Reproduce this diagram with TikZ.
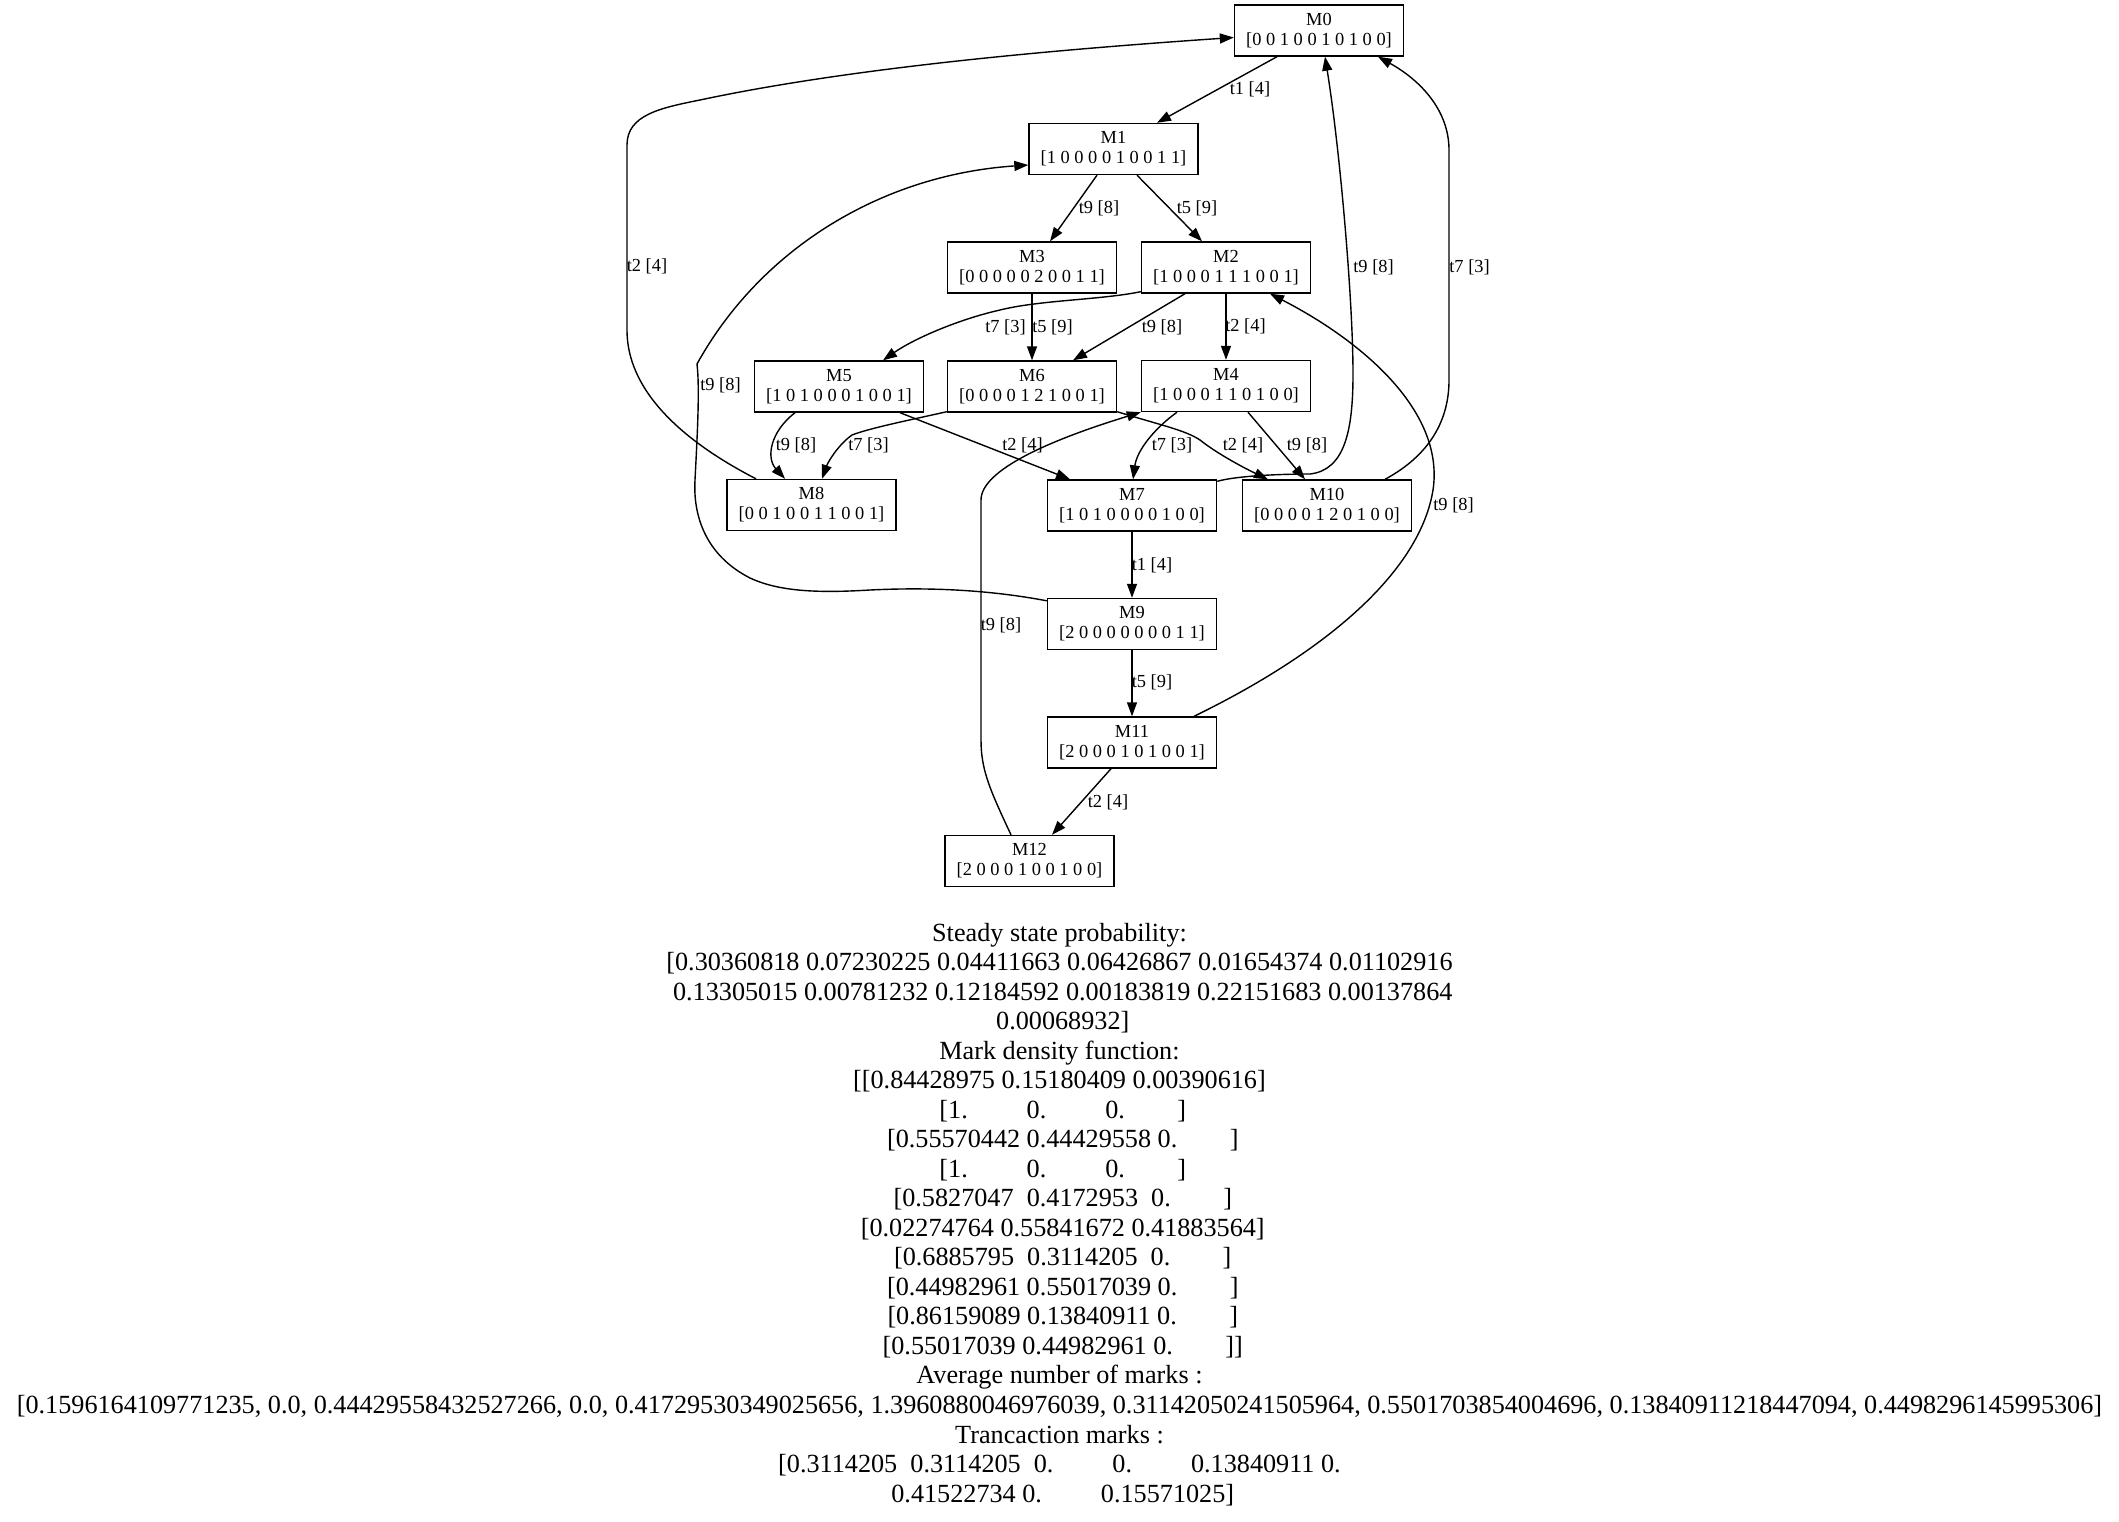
\documentclass[tikz,border=0pt]{standalone}
\usepackage{fontspec}
\setmainfont{Liberation Serif}
\usetikzlibrary{arrows.meta,calc}
\newcommand\sk[1]{\hspace*{#1\fontdimen2\font}}
\begin{document}
\begin{tikzpicture}[x=0.5pt,y=-0.5pt,
  mnode/.style={draw,line width=0.7pt,minimum width=84.5pt,minimum height=25.5pt,inner sep=0pt,align=center,font=\fontsize{9.2}{10}\selectfont},
  edge/.style={draw,line width=0.7pt,-{Triangle[length=7pt,width=5pt]}},
  lbl/.style={inner sep=0pt,font=\fontsize{9.2}{10}\selectfont},
  txt/.style={align=center,inner sep=0pt,font=\fontsize{13.1}{14.76}\selectfont}]
\fill[white] (0,0) rectangle (2119,1521);

\node[mnode] (M0) at (1319,30.5) {M0\\{}[0 0 1 0 0 1 0 1 0 0]};
\node[mnode] (M1) at (1113.5,149) {M1\\{}[1 0 0 0 0 1 0 0 1 1]};
\node[mnode] (M3) at (1032,267.5) {M3\\{}[0 0 0 0 0 2 0 0 1 1]};
\node[mnode] (M2) at (1226,267.5) {M2\\{}[1 0 0 0 1 1 1 0 0 1]};
\node[mnode] (M5) at (839,386.5) {M5\\{}[1 0 1 0 0 0 1 0 0 1]};
\node[mnode] (M6) at (1032,386.5) {M6\\{}[0 0 0 0 1 2 1 0 0 1]};
\node[mnode] (M4) at (1226,386) {M4\\{}[1 0 0 0 1 1 0 1 0 0]};
\node[mnode] (M8) at (811.5,505) {M8\\{}[0 0 1 0 0 1 1 0 0 1]};
\node[mnode] (M7) at (1132,505.5) {M7\\{}[1 0 1 0 0 0 0 1 0 0]};
\node[mnode] (M10) at (1327,505.5) {M10\\{}[0 0 0 0 1 2 0 1 0 0]};
\node[mnode] (M9) at (1132,624) {M9\\{}[2 0 0 0 0 0 0 0 1 1]};
\node[mnode] (M11) at (1132,742.5) {M11\\{}[2 0 0 0 1 0 1 0 0 1]};
\node[mnode] (M12) at (1029.5,861) {M12\\{}[2 0 0 0 1 0 0 1 0 0]};

\draw[edge] ($(M0.south)+(-42,0)$) -- ($(M1.north)+(43.5,0)$) node[lbl] at (1250,89) {t1 [4]};
\draw[edge] ($(M1.south)+(-16.5,0)$) -- ($(M3.north)+(18,0)$) node[lbl] at (1099,208) {t9 [8]};
\draw[edge] ($(M1.south)+(23.5,0)$) -- ($(M2.north)+(-24,0)$) node[lbl] at (1197,208) {t5 [9]};
\draw[edge] ($(M2.south west)+(0,-2)$) .. controls (1100,300) and (1040,300) .. (1000,310) .. controls (960,319) and (915,338) .. ($(M5.north)+(44,0)$) node[lbl] at (1005.5,327) {t7 [3]};
\draw[edge] (M3.south) -- (M6.north) node[lbl] at (1052.5,327) {t5 [9]};
\draw[edge] ($(M2.south)+(-41,0)$) -- ($(M6.north)+(41,0)$) node[lbl] at (1162,327) {t9 [8]};
\draw[edge] (M2.south) -- (M4.north) node[lbl] at (1245.5,326) {t2 [4]};
\draw[edge] ($(M5.south)+(-44,0)$) .. controls (770,432) and (766,458) .. ($(M8.north)+(-26.5,0)$) node[lbl] at (796,445) {t9 [8]};
\draw[edge] ($(M6.south west)+(0,-1)$) .. controls (910,420) and (870,428) .. (852,435) .. controls (838,445) and (828,462) .. ($(M8.north)+(10.5,0)$) node[lbl] at (868.5,445) {t7 [3]};
\draw[edge] ($(M5.south)+(61,0)$) -- ($(M7.north)+(-62,0)$) node[lbl] at (1022.5,445) {t2 [4]};
\draw[edge] ($(M6.south east)+(0,-1)$) .. controls (1160,425) and (1185,430) .. (1200,440) .. controls (1215,452) and (1240,466) .. ($(M10.north)+(-59,0)$) node[lbl] at (1243,445) {t2 [4]};
\draw[edge] ($(M4.south)+(-49,0)$) .. controls (1155,428) and (1137,450) .. ($(M7.north)+(1,0)$) node[lbl] at (1172,445) {t7 [3]};
\draw[edge] ($(M4.south)+(22,0)$) -- ($(M10.north)+(-22,0)$) node[lbl] at (1307,445) {t9 [8]};
\draw[edge] ($(M7.north east)+(0,2)$) .. controls (1240,475) and (1290,474) .. (1310,474) .. controls (1345,470) and (1353,430) .. (1353,374) .. controls (1353,300) and (1340,150) .. ($(M0.south)+(6,0)$) node[lbl] at (1373.5,267) {t9 [8]};
\draw[edge] ($(M10.north)+(58,0)$) .. controls (1430,455) and (1449,420) .. (1449,380) -- (1449,150) .. controls (1449,110) and (1420,80) .. ($(M0.south)+(59,0)$) node[lbl] at (1469.5,267) {t7 [3]};
\draw[edge] ($(M8.north)+(-55.5,0)$) .. controls (700,450) and (627,400) .. (627,330) -- (627,145) .. controls (627,115) and (660,108) .. (700,100) .. controls (850,68) and (1050,50) .. ($(M0.west)+(0,7)$) node[lbl] at (647,266.5) {t2 [4]};
\draw[edge] ($(M9.north west)+(0,3)$) .. controls (990,590) and (930,587) .. (870,590) .. controls (820,593) and (780,592) .. (750,578) .. controls (705,555) and (693,515) .. (695,480) .. controls (697,440) and (700,390) .. (697,364) .. controls (760,250) and (880,175) .. ($(M1.west)+(0,16)$) node[lbl] at (720.5,385) {t9 [8]};
\draw[edge] (M7.south) -- (M9.north) node[lbl] at (1152,565) {t1 [4]};
\draw[edge] (M9.south) -- (M11.north) node[lbl] at (1152,682) {t5 [9]};
\draw[edge] ($(M11.north)+(62,0)$) .. controls (1330,650) and (1420,570) .. (1433,490) .. controls (1445,410) and (1360,340) .. ($(M2.south)+(44,0)$) node[lbl] at (1453.5,505) {t9 [8]};
\draw[edge] ($(M11.south)+(-21,0)$) -- ($(M12.north)+(22.5,0)$) node[lbl] at (1108,802) {t2 [4]};
\draw[edge] ($(M12.north)+(-18.5,0)$) .. controls (990,790) and (981,770) .. (981,740) -- (981,500) .. controls (981,470) and (1050,440) .. (M4.south west) node[lbl] at (1001,625) {t9 [8]};

\node[txt] (stats) at (1059.5,1214.25) {Steady state probability:\\
{}[0.30360818 0.07230225 0.04411663 0.06426867 0.01654374 0.01102916\\
\sk{1}0.13305015 0.00781232 0.12184592 0.00183819 0.22151683 0.00137864\\
\sk{1}0.00068932]\\
Mark density function:\\
{}[[0.84428975 0.15180409 0.00390616]\\
\sk{1}[1.\sk{9}0.\sk{9}0.\sk{8}]\\
\sk{1}[0.55570442 0.44429558 0.\sk{8}]\\
\sk{1}[1.\sk{9}0.\sk{9}0.\sk{8}]\\
\sk{1}[0.5827047\sk{2}0.4172953\sk{2}0.\sk{8}]\\
\sk{1}[0.02274764 0.55841672 0.41883564]\\
\sk{1}[0.6885795\sk{2}0.3114205\sk{2}0.\sk{8}]\\
\sk{1}[0.44982961 0.55017039 0.\sk{8}]\\
\sk{1}[0.86159089 0.13840911 0.\sk{8}]\\
\sk{1}[0.55017039 0.44982961 0.\sk{8}]]\\
Average number of marks :\\
{}[0.1596164109771235, 0.0, 0.44429558432527266, 0.0, 0.41729530349025656, 1.3960880046976039, 0.31142050241505964, 0.5501703854004696, 0.13840911218447094, 0.4498296145995306]\\
Trancaction marks :\\
{}[0.3114205\sk{2}0.3114205\sk{2}0.\sk{9}0.\sk{9}0.13840911 0.\\
\sk{1}0.41522734 0.\sk{9}0.15571025]};
\end{tikzpicture}
\end{document}
